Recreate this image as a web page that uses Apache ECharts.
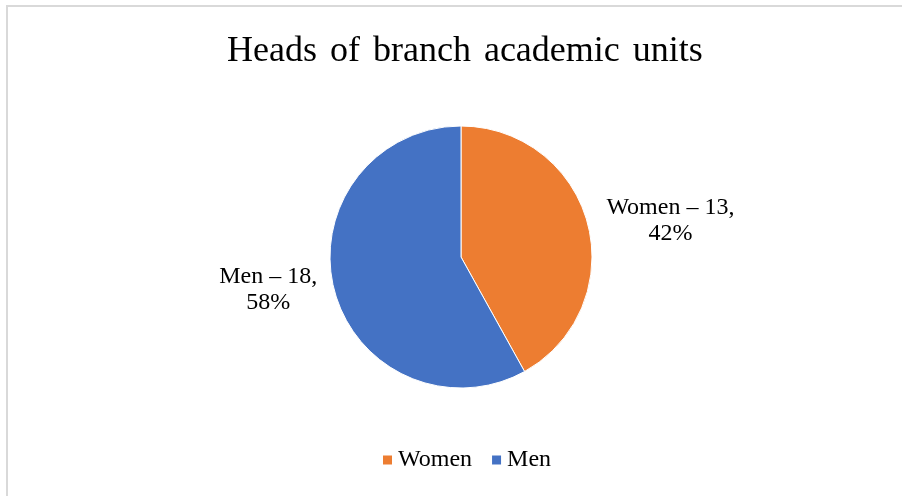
<!DOCTYPE html>
<html>
<head>
<meta charset="utf-8">
<script src="https://cdn.jsdelivr.net/npm/echarts@6/dist/echarts.min.js"></script>
<style>
  html, body { margin: 0; padding: 0; background: #fff; }
  #chart { width: 902px; height: 496px; }
</style>
</head>
<body>
<div id="chart"></div>
<script>
// data
var chartTitle = "Heads of branch academic units";
var categories = ["Women", "Men"];
var counts = [13, 18];
var sliceColors = ["#ED7D31", "#4472C4"];

var serif = "'Liberation Serif', 'Times New Roman', serif";

// per-slice label tweaks (label line lengths / text box widths)
var labelLen = [13, 1];
var labelLen2 = [0, 10];
var boxWidth = [130, 100];

var total = counts.reduce(function (a, b) { return a + b; }, 0);

var pieData = categories.map(function (name, i) {
  return {
    name: name,
    value: counts[i],
    itemStyle: { color: sliceColors[i] },
    labelLine: { show: false, length: labelLen[i], length2: labelLen2[i] },
    label: {
      rich: {
        t: { width: boxWidth[i], align: "center", fontFamily: serif, fontSize: 24, lineHeight: 26, color: "#000" }
      }
    }
  };
});

// title words are set a bit wider apart, like the original
var titleRich = chartTitle.split(" ").join("{s| }");

var myChart = echarts.init(document.getElementById("chart"));

var option = {
  animation: false,
  backgroundColor: "#fff",
  graphic: [
    {
      type: "rect",
      shape: { x: 7, y: 6, width: 1000, height: 1000 },
      style: { fill: "none", stroke: "#d9d9d9", lineWidth: 2 },
      silent: true
    }
  ],
  title: {
    text: titleRich,
    left: 222,
    top: 29,
    textStyle: {
      fontFamily: serif, fontSize: 36, fontWeight: "normal", color: "#000",
      rich: { s: { width: 13, fontFamily: serif, fontSize: 36 } }
    }
  },
  legend: {
    data: categories,
    left: 381,
    top: 448,
    padding: 0,
    icon: "rect",
    itemWidth: 11,
    itemHeight: 11,
    itemGap: 18,
    textStyle: { fontFamily: serif, fontSize: 24, color: "#000" }
  },
  series: [
    {
      type: "pie",
      center: [461, 257],
      radius: [0, 131],
      startAngle: 90,
      clockwise: true,
      avoidLabelOverlap: false,
      itemStyle: { borderColor: "#fff", borderWidth: 1 },
      label: {
        show: true,
        position: "outside",
        formatter: function (p) {
          var pct = Math.round(p.value / total * 100);
          return "{t|" + p.name + " \u2013 " + p.value + ",}\n{t|" + pct + "%}";
        }
      },
      labelLine: { show: false },
      emphasis: { disabled: true },
      data: pieData
    }
  ]
};

myChart.setOption(option);
</script>
</body>
</html>
